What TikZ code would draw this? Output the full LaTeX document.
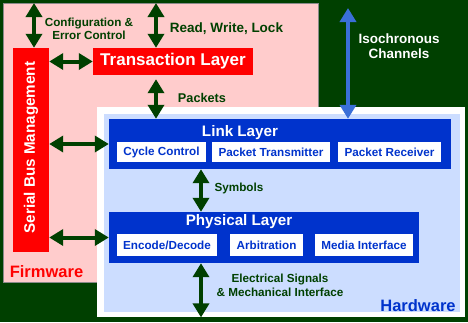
\documentclass[tikz,border=0pt]{standalone}
\usepackage{fontspec}
\setmainfont{Liberation Sans}
\usetikzlibrary{arrows.meta}
\definecolor{bggreen}{HTML}{004000}
\definecolor{fwfill}{HTML}{FFCCCC}
\definecolor{fwline}{HTML}{8A8A8A}
\definecolor{fwred}{HTML}{FF0000}
\definecolor{hwfill}{HTML}{CCDDFF}
\definecolor{hwblue}{HTML}{0033CC}
\definecolor{isoblue}{HTML}{3A6FD8}
\tikzset{
  area/.style    = {rectangle, inner sep=0pt, anchor=north west},
  redblk/.style  = {rectangle, inner sep=0pt, fill=fwred, text=white},
  layer/.style   = {rectangle, inner sep=0pt, fill=hwblue},
  unit/.style    = {rectangle, inner sep=0pt, fill=white, text=hwblue, minimum height=20pt,
                    font=\fontsize{11.7}{14}\selectfont\bfseries},
  lbl/.style     = {text=bggreen, align=center, inner sep=0pt,
                    font=\fontsize{11.7}{13.3}\selectfont\bfseries},
  title/.style   = {text=white, inner sep=0pt, font=\fontsize{15.2}{18}\selectfont\bfseries},
  arealbl/.style = {inner sep=0pt, font=\fontsize{16.5}{20}\selectfont\bfseries},
  dbl/.style     = {{Triangle[width=16pt,length=14pt]}-{Triangle[width=16pt,length=14pt]},
                    line width=4pt, draw=bggreen},
}

\begin{document}
\begin{tikzpicture}[x=1pt, y=-1pt]
        \useasboundingbox (0,0) rectangle (468,322);
        \fill[bggreen] (0,0) rectangle (468,322);
        % firmware and hardware areas
        \node[area, draw=fwline, fill=fwfill, minimum width=315pt, minimum height=279pt] (fw) at (3,3) {};
        \node[area, fill=white, minimum width=368pt, minimum height=210pt] (hw) at (97,107) {};
        \node[area, fill=hwfill, minimum width=356pt, minimum height=198pt] (hwin) at (104,114) {};
        % firmware blocks
        \node[redblk, minimum width=36pt, minimum height=204pt] (sbm) at (31,150) {};
        \node[rotate=90, text=white, inner sep=0pt, font=\fontsize{15.2}{18}\selectfont\bfseries] (sbmtxt) at (31,147.5) {Serial Bus Management};
        \node[redblk, minimum width=160pt, minimum height=27pt, font=\fontsize{17}{20}\selectfont\bfseries] (trans) at (173,61.5) {Transaction Layer};
        % hardware blocks
        \node[layer, minimum width=342pt, minimum height=50pt] (link) at (280,144) {};
        \node[title] (linktxt) at (240,133) {Link Layer};
        \node[unit, minimum width=89pt]  (cyc) at (161.5,152) {Cycle Control};
        \node[unit, minimum width=118pt] (ptx) at (271,152)   {Packet Transmitter};
        \node[unit, minimum width=103pt] (prx) at (389.5,152) {Packet Receiver};
        \node[layer, minimum width=310pt, minimum height=51pt] (phy) at (264,237.5) {};
        \node[title] (phytxt) at (239,222) {Physical Layer};
        \node[unit, minimum width=100pt, minimum height=22pt] (enc) at (167,245)   {Encode/Decode};
        \node[unit, minimum width=73pt,  minimum height=22pt] (arb) at (266.5,245) {Arbitration};
        \node[unit, minimum width=98pt,  minimum height=22pt] (med) at (364,245)   {Media Interface};
        % area labels
        \node[arealbl, text=fwred] (fwtxt) at (46.5,271.5) {Firmware};
        \node[arealbl, text=hwblue] (hwtxt) at (418,306) {Hardware};
        % connectors
        \coordinate (cfgtop) at (34,3);
        \coordinate (rwltop) at (156,3);
        \coordinate (isotop) at (348,8);
        \draw[dbl] (cfgtop) -- (cfgtop |- sbm.north);
        \draw[dbl] (rwltop) -- (rwltop |- trans.north);
        \draw[dbl] (sbm.east |- trans.west) -- (trans.west);
        \draw[dbl, shorten <=4pt] (rwltop |- trans.south) -- (rwltop |- link.north);
        \draw[dbl, draw=isoblue] (isotop) -- (isotop |- link.north);
        \draw[dbl] (sbm.east |- link.west) -- (link.west);
        \draw[dbl] (sbm.east |- phy.west) -- (phy.west);
        \draw[dbl] (link.south -| 201,0) -- (phy.north -| 201,0);
        \draw[dbl] (phy.south -| 201,0) -- (hw.south -| 201,0);
        % connector labels
        \node[lbl] (cfgtxt) at (89,28.5) {Configuration \&\\Error Control};
        \node[lbl, font=\fontsize{13.5}{16}\selectfont\bfseries] (rwltxt) at (226.5,29) {Read, Write, Lock};
        \node[lbl, font=\fontsize{12.7}{15}\selectfont\bfseries] (pkttxt) at (202,98) {Packets};
        \node[lbl, text=white, font=\fontsize{13.5}{15}\selectfont\bfseries] (isotxt) at (399,46.5) {Isochronous\\Channels};
        \node[lbl] (symtxt) at (239,188) {Symbols};
        \node[lbl, font=\fontsize{11.7}{14}\selectfont\bfseries] (electxt) at (280,285) {Electrical Signals\\\& Mechanical Interface};
    \end{tikzpicture}
\end{document}
